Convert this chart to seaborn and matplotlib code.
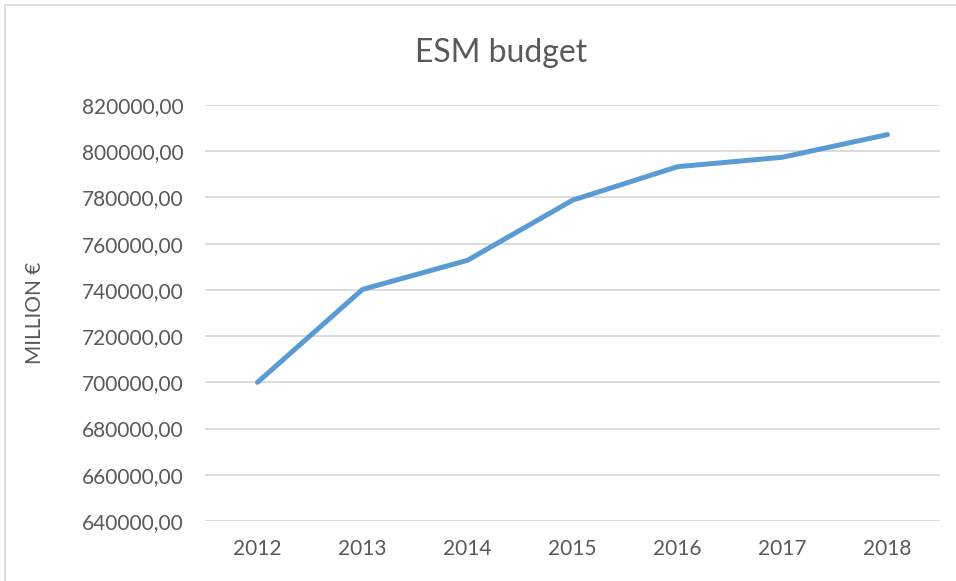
import matplotlib
matplotlib.use("Agg")
import matplotlib.pyplot as plt
import seaborn as sns
import pandas as pd
from matplotlib.patches import Rectangle

years = ["2012", "2013", "2014", "2015", "2016", "2017", "2018"]
budget = [700000, 740200, 752800, 778800, 793300, 797400, 807200]
y_ticks = [640000, 660000, 680000, 700000, 720000, 740000, 760000, 780000, 800000, 820000]

sns.set_style("white")
plt.rcParams["font.family"] = ["Lato", "DejaVu Sans"]

W, H = 956, 581
fig = plt.figure(figsize=(W / 100, H / 100), dpi=100)
ax = fig.add_axes([205 / W, 1 - 521 / H, (940 - 205) / W, (521 - 105) / H])

df = pd.DataFrame({"pos": range(len(years)), "budget": budget})
sns.lineplot(data=df, x="pos", y="budget", ax=ax, color="#5B9BD5", linewidth=3.6,
             solid_capstyle="round", solid_joinstyle="round")

txt = "#595959"
ax.set_xlim(-0.5, len(years) - 0.5)
ax.set_ylim(y_ticks[0], y_ticks[-1])
ax.set_yticks(y_ticks)
ax.set_yticklabels([f"{v},00" for v in y_ticks], color=txt, fontsize=15)
ax.set_xticks(range(len(years)))
ax.set_xticklabels(years, color=txt, fontsize=15)
ax.tick_params(axis="both", length=0)
ax.tick_params(axis="y", pad=15.5)
ax.tick_params(axis="x", pad=13)
ax.grid(axis="y", color="#d9d9d9", linewidth=1.3)
ax.set_axisbelow(True)
for s in ax.spines.values():
    s.set_visible(False)
ax.set_xlabel("")
ax.set_ylabel("")

fig.text(35 / W, 1 - 313 / H, "MILLION €", rotation=90, ha="center", va="center",
         color=txt, fontsize=15)
fig.text(501 / W, 1 - 62 / H, "ESM budget", ha="center", va="baseline", color=txt, fontsize=23)

fig.patches.append(Rectangle((5 / W, -0.1), 1.2, 1 - 5 / H + 0.1, transform=fig.transFigure,
                             fill=False, edgecolor="#d9d9d9", linewidth=1.3))

fig.savefig("out.png", dpi=100, facecolor="white")
